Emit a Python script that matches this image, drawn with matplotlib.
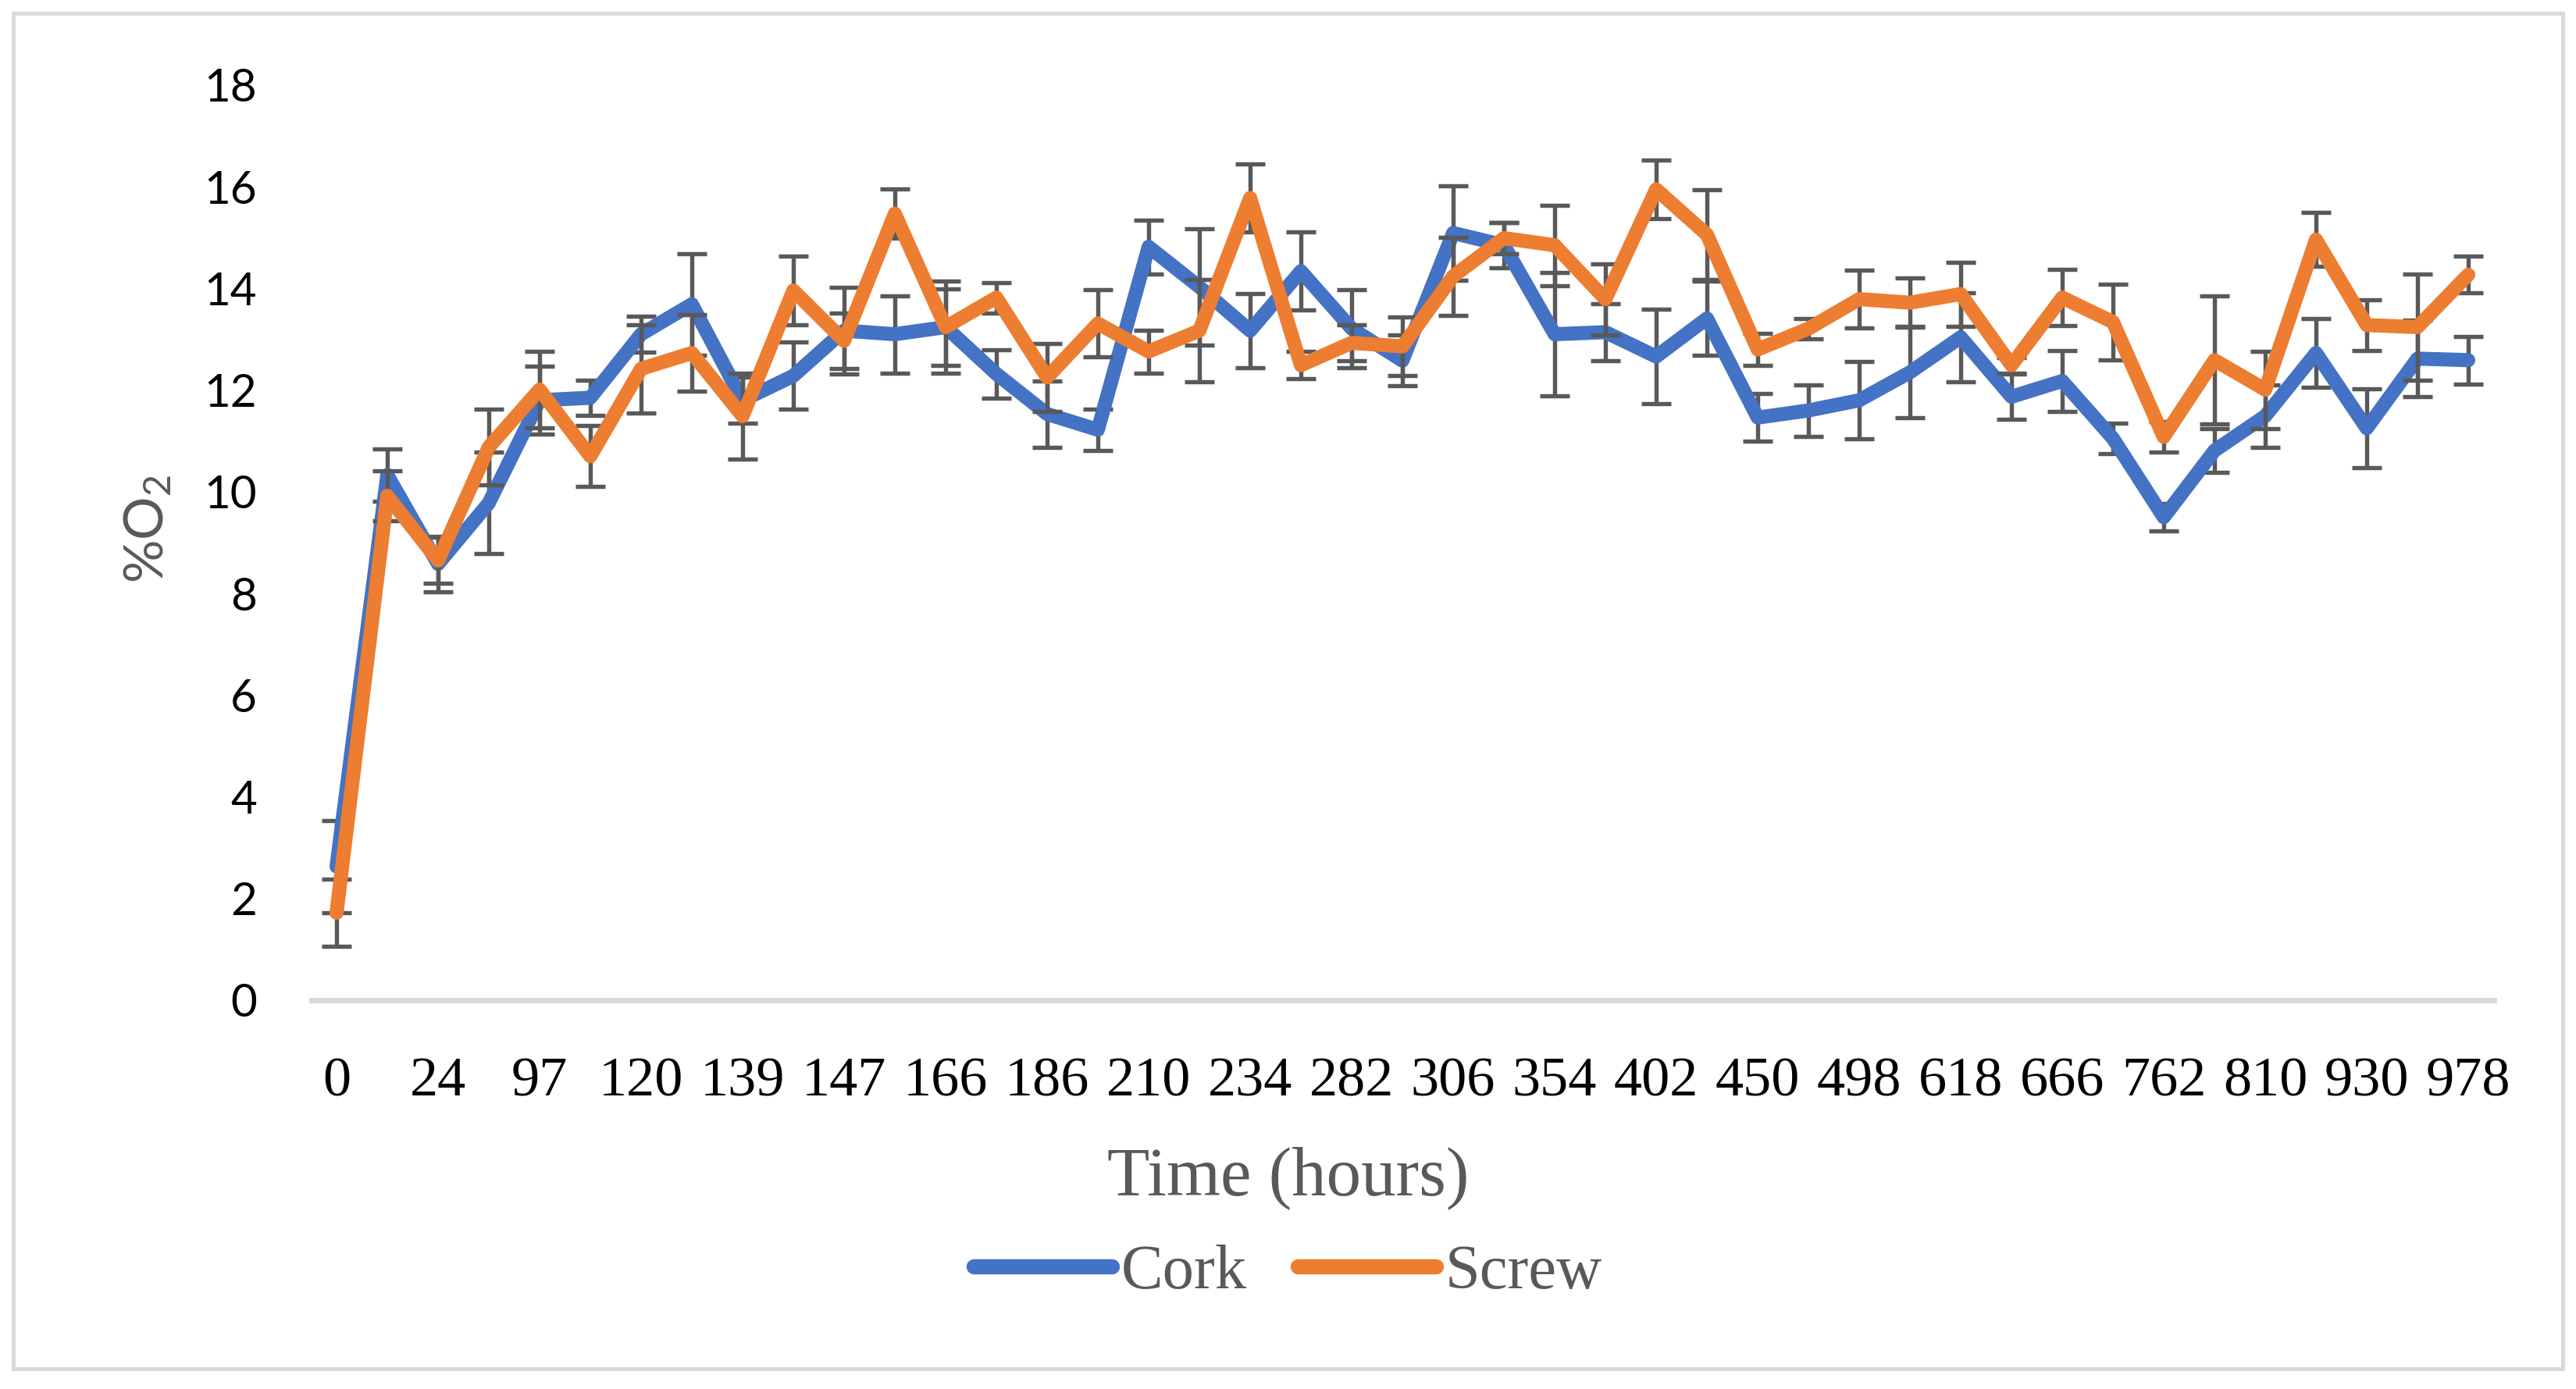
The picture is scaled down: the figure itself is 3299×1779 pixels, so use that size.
import numpy as np
import matplotlib.pyplot as plt
from matplotlib.patches import Rectangle
from matplotlib.lines import Line2D

# labelled categories (Excel shows every second one)
tick_hours = [0, 24, 97, 120, 139, 147, 166, 186, 210, 234, 282, 306,
              354, 402, 450, 498, 618, 666, 762, 810, 930, 978]

cork = [2.63, 10.33, 8.58, 9.78, 11.80, 11.85, 13.10, 13.69, 11.80, 12.28,
        13.17, 13.10, 13.24, 12.32, 11.53, 11.22, 14.82, 14.03, 13.17, 14.34,
        13.21, 12.58, 15.09, 14.85, 13.10, 13.14, 12.66, 13.41, 11.46, 11.60,
        11.80, 12.35, 13.04, 11.87, 12.18, 11.05, 9.50, 10.81, 11.49, 12.73,
        11.25, 12.62, 12.59]
cork_err = [0.91, 0.52, 0.55, 1.00, 0.67, 0.35, 0.36, 1.00, 0.45, 0.66,
            0.85, 0.76, 0.90, 0.48, 0.65, 0.41, 0.53, 1.15, 0.73, 0.77,
            0.77, 0.50, 0.93, 0.45, 1.21, 0.56, 0.93, 0.73, 0.47, 0.51,
            0.76, 0.90, 0.87, 0.44, 0.60, 0.30, 0.27, 0.43, 0.62, 0.68,
            0.77, 0.75, 0.47]

screw = [1.72, 9.92, 8.65, 10.88, 12.01, 10.70, 12.42, 12.73, 11.49, 13.96,
         12.97, 15.47, 13.24, 13.82, 12.25, 13.31, 12.76, 13.17, 15.78, 12.49,
         12.93, 12.86, 14.24, 14.99, 14.85, 13.79, 15.95, 15.06, 12.80, 13.21,
         13.79, 13.72, 13.89, 12.49, 13.82, 13.34, 11.08, 12.59, 12.01, 14.96,
         13.28, 13.24, 14.27]
screw_err = [0.66, 0.49, 0.45, 0.75, 0.75, 0.60, 0.87, 0.75, 0.85, 0.67,
             0.55, 0.48, 0.75, 0.30, 0.67, 0.66, 0.42, 1.00, 0.67, 0.27,
             0.35, 0.58, 0.77, 0.30, 0.79, 0.70, 0.58, 0.88, 0.32, 0.20,
             0.57, 0.48, 0.63, 0.15, 0.55, 0.75, 0.30, 1.26, 0.76, 0.53,
             0.50, 1.05, 0.36]

blue = '#4472C4'
orange = '#ED7D31'
grey = '#595959'
serif = ['Liberation Serif', 'DejaVu Serif']
sans = ['Lato', 'DejaVu Sans']

plt.rcParams['mathtext.default'] = 'regular'

fig = plt.figure(figsize=(32.99, 17.79), dpi=100)
W, H = 3299, 1779
ax = fig.add_axes([398.5 / W, 1 - 1281 / H, (3193.5 - 398.5) / W, (1281 - 109) / H])

x = np.arange(len(cork))

ax.errorbar(x, cork, yerr=cork_err, fmt='none', ecolor=grey, elinewidth=3.9,
            capsize=14, capthick=3.9, zorder=2)
ax.plot(x, cork, color=blue, lw=13, solid_joinstyle='round',
        solid_capstyle='round', zorder=3)
ax.errorbar(x, screw, yerr=screw_err, fmt='none', ecolor=grey, elinewidth=3.9,
            capsize=14, capthick=3.9, zorder=4)
ax.plot(x, screw, color=orange, lw=13, solid_joinstyle='round',
        solid_capstyle='round', zorder=5)

ax.set_xlim(-0.5, len(cork) - 0.5)
ax.set_ylim(0, 18)
ax.set_yticks(range(0, 19, 2))
ax.set_yticklabels([str(v) for v in range(0, 19, 2)], fontfamily=sans, fontsize=42)
ax.set_xticks(range(0, len(cork), 2))
ax.set_xticklabels([str(h) for h in tick_hours], fontfamily=serif, fontsize=52)
ax.tick_params(axis='x', length=0, pad=52, colors='black')
ax.tick_params(axis='y', length=0, pad=50, colors='black')

for s in ['top', 'right', 'left']:
    ax.spines[s].set_visible(False)
ax.spines['bottom'].set_color('#D9D9D9')
ax.spines['bottom'].set_linewidth(5)
ax.spines['bottom'].set_zorder(1)

fig.text(189 / W, 1 - 677 / H, r'%O$_\mathregular{2}$', rotation=90,
         ha='center', va='center', color=grey, fontsize=50, family=sans)
fig.text(0.5, 1 - 1530 / H, 'Time (hours)', ha='center', va='baseline',
         color=grey, fontsize=64, family=serif)

handles = [Line2D([], [], color=blue, lw=14, solid_capstyle='round'),
           Line2D([], [], color=orange, lw=14, solid_capstyle='round')]
leg = fig.legend(handles, ['Cork', 'Screw'], loc='center',
                 bbox_to_anchor=(0.5, 1 - 1630 / H), ncol=2, frameon=False,
                 handlelength=2.2, handletextpad=0.15, columnspacing=0.8,
                 prop={'family': serif, 'size': 58})
for t in leg.get_texts():
    t.set_color(grey)

fig.patches.append(Rectangle((17 / W, 1 - 1753 / H), (3282 - 17) / W, (1753 - 17) / H,
                             transform=fig.transFigure, fill=False,
                             edgecolor='#D9D9D9', lw=3.6))

fig.savefig('out.png', dpi=100, facecolor='white')
